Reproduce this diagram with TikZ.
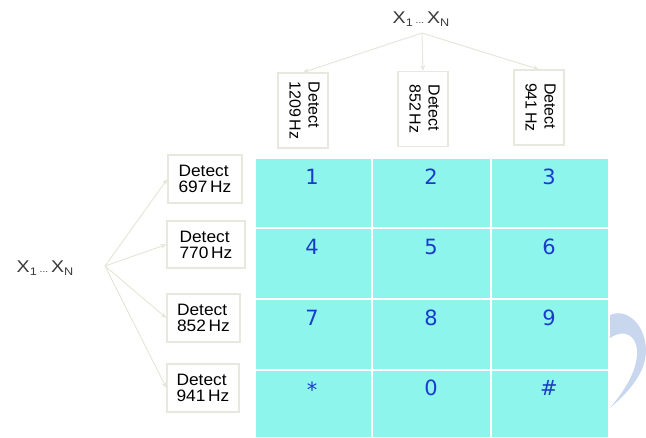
\documentclass[tikz,border=0pt]{standalone}
\usepackage{fontspec}
\usepackage{graphicx}
\setmainfont{Liberation Sans}
\newfontfamily\detfont[FakeStretch=1.05]{Liberation Sans}
\newfontfamily\xfont[FakeStretch=1.15]{Liberation Sans}
\newfontfamily\digfont{DejaVu Sans}
\usetikzlibrary{arrows.meta}
\definecolor{padcyan}{HTML}{8EF5EC}
\definecolor{digblue}{HTML}{1A3CCC}
\definecolor{paleline}{HTML}{E6E6DA}
\definecolor{boxline}{HTML}{E8E8DE}
\definecolor{crescent}{HTML}{C8D6EE}
\definecolor{labelgray}{HTML}{3A3A3A}
\tikzset{
  detbox/.style={draw=boxline, line width=1.2pt, fill=white, inner sep=0pt,
    text=black, font=\detfont\fontsize{16.5}{16}\selectfont, align=left},
  topbox/.style={draw=boxline, line width=1.2pt, fill=white, inner sep=0pt,
    minimum width=50pt, minimum height=75pt, text=black},
  feed/.style={draw=paleline, line width=1pt, -{Stealth[length=6pt,width=5pt]}},
  digit/.style={text=digblue, font=\digfont\fontsize{21}{21}\selectfont, inner sep=0pt},
  xlabel/.style={text=labelgray, font=\xfont\fontsize{17}{17}\selectfont, inner sep=0pt}
}
\newcommand{\xrange}{X\raisebox{-0.3ex}{\fontsize{11}{11}\selectfont 1}\,{\fontsize{9}{9}\selectfont ...}\,X\raisebox{-0.3ex}{\fontsize{11}{11}\selectfont N}}
\newcommand{\rotdet}[1]{\rotatebox[origin=c]{-90}{\fontsize{16}{19}\selectfont\begin{tabular}{@{}l@{}}Detect\\#1\end{tabular}}}
\begin{document}
\begin{tikzpicture}[x=1pt,y=-1pt]
\useasboundingbox (0,0) rectangle (646,437);
% crescent
\fill[crescent] (610,315) .. controls (625,308) and (645,322) .. (646,350)
  .. controls (646,375) and (625,395) .. (610,408)
  .. controls (625,390) and (638,370) .. (637,350)
  .. controls (636,336) and (625,328) .. (610,338) -- cycle;
% keypad
\fill[padcyan] (256,159) rectangle (608,437);
\foreach \x in {372,491} \draw[white, line width=1.2pt] (\x,159) -- (\x,437);
\foreach \y in {228,299,370} \draw[white, line width=1.2pt] (256,\y) -- (608,\y);
\node[digit] (k1) at (312,177) {1};
\node[digit] (k2) at (431,177) {2};
\node[digit] (k3) at (549,177) {3};
\node[digit] (k4) at (312,247) {4};
\node[digit] (k5) at (431,247) {5};
\node[digit] (k6) at (549,247) {6};
\node[digit] (k7) at (312,318) {7};
\node[digit] (k8) at (431,318) {8};
\node[digit] (k9) at (549,318) {9};
\node[digit] (ks) at (312,390) {*};
\node[digit] (k0) at (431,388) {0};
\node[digit] (kh) at (549,388) {\#};
% left detectors
\node[xlabel] (xl) at (45,268) {\xrange};
\coordinate (ls) at (105,266);
\node[detbox, minimum width=74pt, minimum height=48pt] (r1) at (205,179) {Detect\\697\,Hz};
\node[detbox, minimum width=78pt, minimum height=47pt] (r2) at (206,244.5) {Detect\\770\,Hz};
\node[detbox, minimum width=73pt, minimum height=48pt] (r3) at (203.5,318) {Detect\\852\,Hz};
\node[detbox, minimum width=72pt, minimum height=48pt] (r4) at (203,388) {Detect\\941\,Hz};
\foreach \r in {r1,r2,r3,r4} \draw[feed] (ls) -- (\r.west);
% top detectors
\node[xlabel] (xt) at (421,19) {\xrange};
\coordinate (ts) at (422,33);
\node[topbox] (c1) at (303,110.5) {\rotdet{1209\,Hz}};
\node[topbox] (c2) at (423,109) {\rotdet{852\,Hz}};
\node[topbox] (c3) at (539,107.5) {\rotdet{941\,Hz}};
\foreach \c in {c1,c2,c3} \draw[feed] (ts) -- (\c.north);
\end{tikzpicture}
\end{document}
